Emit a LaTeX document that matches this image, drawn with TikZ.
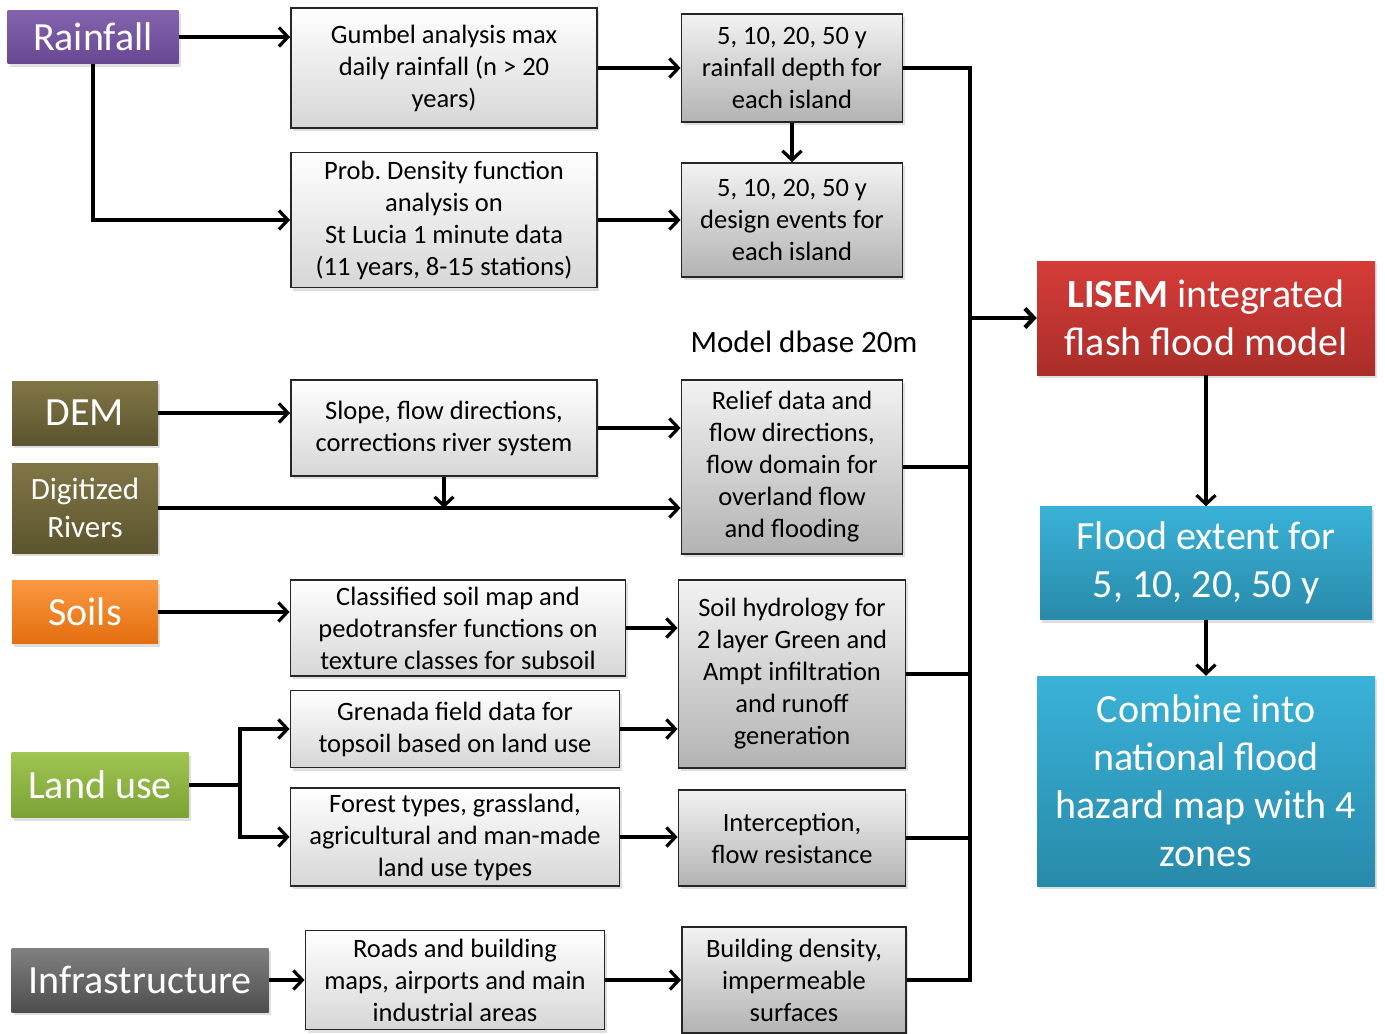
\documentclass[tikz,border=0pt]{standalone}
\usepackage{fontspec}
\setmainfont{Carlito}
\usetikzlibrary{arrows.meta,shadows}

\definecolor{rainA}{RGB}{131,99,172}
\definecolor{rainB}{RGB}{104,72,148}
\definecolor{demA}{RGB}{128,118,70}
\definecolor{demB}{RGB}{92,84,46}
\definecolor{soilA}{RGB}{250,152,64}
\definecolor{soilB}{RGB}{228,110,16}
\definecolor{landA}{RGB}{160,196,82}
\definecolor{landB}{RGB}{122,162,52}
\definecolor{infraA}{RGB}{128,128,128}
\definecolor{infraB}{RGB}{78,78,78}
\definecolor{lisemA}{RGB}{214,60,56}
\definecolor{lisemB}{RGB}{170,46,42}
\definecolor{floodA}{RGB}{58,178,216}
\definecolor{floodB}{RGB}{40,138,170}

\tikzset{
  box/.style={draw=black!85, line width=1.8pt, top color=white, bottom color=black!16,
    font=\fontsize{26.5}{32}\selectfont, align=center, inner sep=0pt,
    drop shadow={opacity=0.25, shadow xshift=2pt, shadow yshift=-3pt}},
  darkbox/.style={box, top color=black!5, bottom color=black!30},
  src/.style 2 args={top color=#1, bottom color=#2, text=white, align=center, inner sep=0pt,
    font=\fontsize{40}{48}\selectfont,
    drop shadow={opacity=0.25, shadow xshift=2pt, shadow yshift=-3pt}},
  link/.style={line width=3.2pt, -{Straight Barb[length=9pt,width=19pt]}},
  bus/.style={line width=4.2pt}
}

\begin{document}
\begin{tikzpicture}[x=1pt, y=-1pt]
  \useasboundingbox (0,0) rectangle (1385,1034);

  % data sources
  \node[src={rainA}{rainB}, minimum width=171, minimum height=53] (rain) at (93,37) {Rainfall};
  \node[src={demA}{demB}, minimum width=146, minimum height=64] (dem) at (85,413) {DEM};
  \node[src={demA}{demB}, minimum width=146, minimum height=90,
        font=\fontsize{31}{38}\selectfont] (rivers) at (85,508) {Digitized\\Rivers};
  \node[src={soilA}{soilB}, minimum width=146, minimum height=63] (soils) at (85,612) {Soils};
  \node[src={landA}{landB}, minimum width=177, minimum height=65] (landuse) at (100,785) {Land use};
  \node[src={infraA}{infraB}, minimum width=257, minimum height=64] (infra) at (140,980) {Infrastructure};

  % processing
  \node[box, minimum width=306, minimum height=120] (gumbel) at (444,68)
    {Gumbel analysis max\\daily rainfall (n > 20\\years)};
  \node[box, minimum width=306, minimum height=135] (pdf) at (444,220)
    {Prob.\ Density function\\analysis on\\St Lucia 1 minute data\\(11 years, 8-15 stations)};
  \node[box, minimum width=306, minimum height=96] (slope) at (444,428)
    {Slope, flow directions,\\corrections river system};
  \node[box, minimum width=335, minimum height=96] (classified) at (458,628)
    {Classified soil map and\\pedotransfer functions on\\texture classes for subsoil};
  \node[box, minimum width=329, minimum height=77] (grenada) at (455,729)
    {Grenada field data for\\topsoil based on land use};
  \node[box, minimum width=329, minimum height=98] (forest) at (455,837)
    {Forest types, grassland,\\agricultural and man-made\\land use types};
  \node[box, minimum width=299, minimum height=99] (roads) at (455,980)
    {Roads and building\\maps, airports and main\\industrial areas};

  % model database
  \node[darkbox, minimum width=221, minimum height=108] (depth) at (792,68)
    {5, 10, 20, 50 y\\rainfall depth for\\each island};
  \node[darkbox, minimum width=221, minimum height=114] (design) at (792,220)
    {5, 10, 20, 50 y\\design events for\\each island};
  \node[font=\fontsize{31}{32}\selectfont] (dbase) at (804,342) {Model dbase 20m};
  \node[darkbox, minimum width=221, minimum height=174] (relief) at (792,467)
    {Relief data and\\flow directions,\\flow domain for\\overland flow\\and flooding};
  \node[darkbox, minimum width=227, minimum height=188] (hydro) at (792,674)
    {Soil hydrology for\\2 layer Green and\\Ampt infiltration\\and runoff\\generation};
  \node[darkbox, minimum width=227, minimum height=96] (interc) at (792,838)
    {Interception,\\flow resistance};
  \node[darkbox, minimum width=224, minimum height=106] (build) at (794,980)
    {Building density,\\impermeable\\surfaces};

  % model and results
  \node[src={lisemA}{lisemB}, minimum width=338, minimum height=114] (lisem) at (1206,318)
    {\textbf{LISEM} integrated\\flash flood model};
  \node[src={floodA}{floodB}, minimum width=332, minimum height=113] (flood) at (1206,563)
    {Flood extent for\\5, 10, 20, 50 y};
  \node[src={floodA}{floodB}, minimum width=338, minimum height=210] (combine) at (1206,781)
    {Combine into\\national flood\\hazard map with 4\\zones};

  % rainfall branch
  \draw[link] (rain.east) -- (gumbel.west |- rain.east);
  \draw[link] (rain.south) |- (pdf.west);
  \draw[link] (gumbel.east) -- (depth.west);
  \draw[link] (pdf.east) -- (design.west);
  \draw[link] (depth) -- (design);

  % relief branch
  \draw[link] (dem.east) -- (slope.west |- dem.east);
  \draw[link] (slope.east) -- (relief.west |- slope.east);
  \draw[link] (rivers.east) -- (relief.west |- rivers.east);
  \draw[link] (slope.south) -- (slope.south |- rivers.east);

  % soils and land use
  \coordinate (fork) at (240,785);
  \draw[link] (soils.east) -- (classified.west |- soils.east);
  \draw[link] (classified.east) -- (hydro.west |- classified.east);
  \draw[line width=3.2pt] (landuse.east) -- (fork);
  \draw[link] (fork) |- (grenada.west);
  \draw[link] (fork) |- (forest.west);
  \draw[link] (grenada.east) -- (hydro.west |- grenada.east);
  \draw[link] (forest.east) -- (interc.west |- forest.east);
  \draw[link] (infra.east) -- (roads.west |- infra.east);
  \draw[link] (roads.east) -- (build.west);

  % collecting line into the model
  \coordinate (bustop) at (970,68);
  \coordinate (busbot) at (970,980);
  \draw[bus] (depth.east) -- (bustop) -- (busbot) -- (build.east);
  \draw[bus] (relief.east) -- (relief.east -| bustop);
  \draw[bus] (hydro.east) -- (hydro.east -| bustop);
  \draw[bus] (interc.east) -- (interc.east -| bustop);
  \draw[link, line width=4.2pt] (lisem.west -| bustop) -- (lisem.west);

  \draw[link] (lisem) -- (flood);
  \draw[link] (flood) -- (combine);

\end{tikzpicture}
\end{document}
